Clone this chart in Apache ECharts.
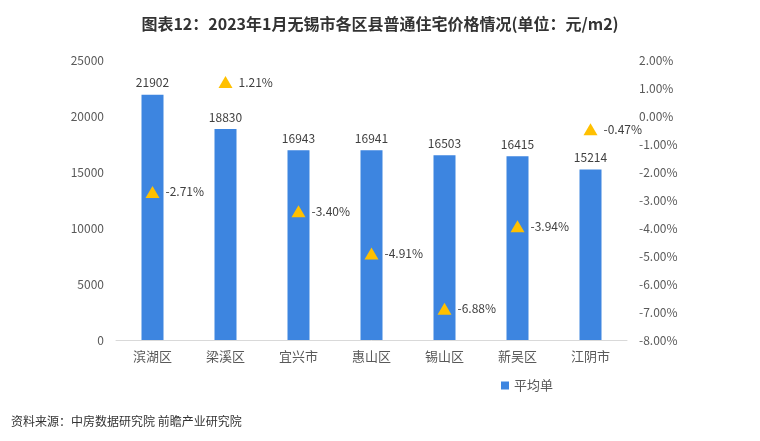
<!DOCTYPE html>
<html>
<head>
<meta charset="utf-8">
<script src="https://cdn.jsdelivr.net/npm/echarts@6/dist/echarts.min.js"></script>
<style>
  html, body { margin: 0; padding: 0; background: #fff; }
  #chart { width: 760px; height: 441px; }
</style>
</head>
<body>
<div id="chart"></div>
<script>
// 区县
var districts = ['滨湖区', '梁溪区', '宜兴市', '惠山区', '锡山区', '新吴区', '江阴市'];
// 平均单价（元/m2）
var avgPrice = [21902, 18830, 16943, 16941, 16503, 16415, 15214];
// 环比（%）
var momChange = [-2.71, 1.21, -3.40, -4.91, -6.88, -3.94, -0.47];

var leftTicks = [0, 5000, 10000, 15000, 20000, 25000];

var chart = echarts.init(document.getElementById('chart'));

var font = '"Microsoft YaHei", "Noto Sans CJK SC", sans-serif';

chart.setOption({
    animation: false,
    textStyle: { fontFamily: font },
    title: [{
        text: '图表12：2023年1月无锡市各区县普通住宅价格情况(单位：元/m2)',
        left: 'center',
        top: 11,
        textStyle: { fontSize: 16, fontWeight: 'bold', color: '#333', fontFamily: '"Noto Sans CJK SC", sans-serif' }
    }, {
        text: '资料来源：中房数据研究院 前瞻产业研究院',
        left: 6,
        top: 410,
        textStyle: { fontSize: 12, fontWeight: 'normal', color: '#333', fontFamily: font }
    }],
    legend: {
        data: [{ name: '平均单', icon: 'rect' }],
        left: 496,
        top: 374,
        itemWidth: 8,
        itemHeight: 8,
        itemGap: 4,
        textStyle: { fontSize: 13, color: '#595959' }
    },
    grid: { left: 116, right: 133, top: 60, bottom: 101 },
    xAxis: {
        type: 'category',
        data: districts,
        axisLine: { lineStyle: { color: '#d9d9d9' } },
        axisTick: { show: false },
        axisLabel: { color: '#595959', fontSize: 13, margin: 10 }
    },
    yAxis: [{
        type: 'value',
        min: 0,
        max: leftTicks[leftTicks.length - 1],
        interval: 5000,
        splitLine: { show: false },
        axisLine: { show: false },
        axisTick: { show: false },
        axisLabel: {
            color: '#595959', fontSize: 12, margin: 12,
            formatter: function (v) { return String(v); }
        }
    }, {
        type: 'value',
        min: -8,
        max: 2,
        interval: 1,
        splitLine: { show: false },
        axisLine: { show: false },
        axisTick: { show: false },
        axisLabel: {
            color: '#595959', fontSize: 12, margin: 12,
            formatter: function (v) { return v.toFixed(2) + '%'; }
        }
    }],
    series: [{
        name: '平均单',
        type: 'bar',
        data: avgPrice,
        barWidth: 22,
        itemStyle: { color: '#3D85E0' },
        label: { show: true, position: 'top', color: '#404040', fontSize: 12, distance: 6 }
    }, {
        name: '环比',
        type: 'scatter',
        yAxisIndex: 1,
        data: momChange,
        symbol: 'triangle',
        symbolSize: [14, 12],
        itemStyle: { color: '#FFC000', opacity: 1 },
        label: {
            show: true,
            position: 'right',
            distance: 6,
            color: '#404040',
            fontSize: 12,
            formatter: function (p) { return p.value.toFixed(2) + '%'; }
        }
    }]
});
</script>
</body>
</html>
